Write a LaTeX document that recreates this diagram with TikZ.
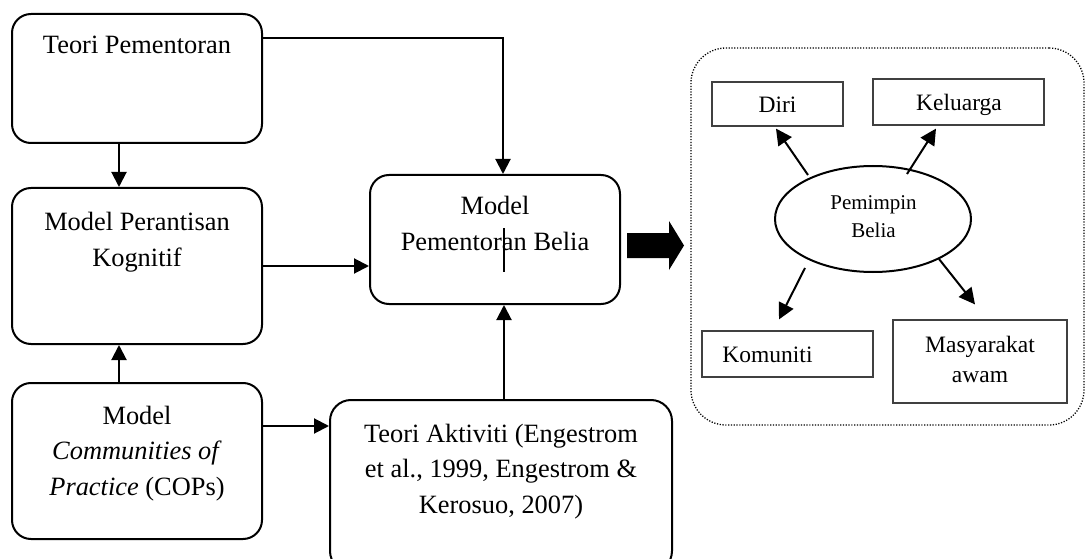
\documentclass[tikz,border=0pt]{standalone}
\usepackage{fontspec}
\setmainfont{Liberation Serif}
\usetikzlibrary{arrows.meta,shapes.geometric,calc}
\begin{document}
\begin{tikzpicture}[x=1pt,y=-1pt,
  rbox/.style={draw, line width=2pt, rounded corners=19pt, inner sep=0pt},
  pbox/.style={draw=black!75, line width=1.2pt, inner sep=0pt},
  big/.style={font=\fontsize{26.4}{35.5}\selectfont, align=center, inner sep=0pt, anchor=base},
  mid/.style={font=\fontsize{23.5}{30}\selectfont, align=center, inner sep=0pt, anchor=base},
  sml/.style={font=\fontsize{21}{28}\selectfont, align=center, inner sep=0pt, anchor=base},
  arr/.style={line width=2pt, -{Triangle[length=15pt,width=15pt]}},
  parr/.style={line width=2pt, -{Triangle[length=16pt,width=16pt]}},
]
\path[use as bounding box] (0,0) rectangle (1085,559);
\clip (0,0) rectangle (1085,559);

% left boxes
\node[rbox, minimum width=250pt, minimum height=129pt] (b1) at (137,78.5) {};
\node[rbox, minimum width=250pt, minimum height=156pt] (b2) at (137,266) {};
\node[rbox, minimum width=250pt, minimum height=156pt] (b3) at (137,461) {};
\node[rbox, minimum width=250pt, minimum height=129pt] (b4) at (495,239.5) {};
\node[rbox, rounded corners=21pt, minimum width=342pt, minimum height=172pt] (b5) at (501,486) {};

\node[big] (t1) at (137,54) {Teori Pementoran};
\node[big] (t2) at (137,266) {Model Perantisan\\Kognitif};
\node[big] (t3) at (137,495) {Model\\\textit{Communities of}\\\textit{Practice} (COPs)};
\node[big] (t4) at (495,250) {Model\\Pementoran Belia};
\node[big] (t5) at (501,513) {Teori Aktiviti (Engestrom\\et al., 1999, Engestrom \&\\Kerosuo, 2007)};

% connectors
\draw[arr] ([yshift=40.5pt]b1.east) -| ([xshift=8pt]b4.north);
\draw[arr] ([xshift=-18pt]b1.south) -- ([xshift=-18pt]b2.north);
\draw[arr] ([xshift=-18pt]b3.north) -- ([xshift=-18pt]b2.south);
\draw[arr] (b2.east) -- (b2.east -| b4.west);
\draw[arr] ([yshift=35pt]b3.east) -- ([yshift=35pt]b3.east -| b5.west);
\draw[arr] ([xshift=3pt]b5.north) -- ([xshift=3pt]b5.north |- b4.south);
\draw[line width=1.3pt] (504,228) -- (504,272);

% big arrow
\fill (627,233) -- (669,233) -- (669,221) -- (684,245.5) -- (669,270) -- (669,258) -- (627,258) -- cycle;

% right panel
\node[draw, line width=1.3pt, dash pattern=on 1.2pt off 1.6pt, rounded corners=35pt,
      minimum width=393pt, minimum height=377pt, inner sep=0pt] (panel) at (887.5,236.5) {};
\node[pbox, minimum width=131pt, minimum height=44pt] (diri) at (777.5,104) {};
\node[pbox, minimum width=171pt, minimum height=46pt] (kel) at (958.5,102) {};
\node[pbox, minimum width=171pt, minimum height=46pt] (kom) at (787.5,354) {};
\node[pbox, minimum width=174pt, minimum height=83pt] (mas) at (980,361.5) {};
\node[draw, ellipse, line width=2pt, minimum width=196pt, minimum height=106pt, inner sep=0pt] (pb) at (873,219) {};

\node[mid] (tdiri) at (777.5,113) {Diri};
\node[mid] (tkel) at (959,111) {Keluarga};
\node[mid] (tkom) at (767.5,362) {Komuniti};
\node[mid] (tmas) at (980,382) {Masyarakat\\awam};
\node[sml] (tpb) at (873.5,237) {Pemimpin\\Belia};

\coordinate (s1) at (808,175);
\coordinate (s2) at (907,174);
\coordinate (s3) at (805,268);
\coordinate (s4) at (939,259);
\draw[parr] (s1) -- ([xshift=-1.5pt,yshift=-2pt]diri.south);
\draw[parr] (s2) -- ([xshift=-22.5pt,yshift=-3pt]kel.south);
\draw[parr] (s3) -- ([xshift=-8.5pt,yshift=11pt]kom.north);
\draw[parr] (s4) -- ([xshift=-5pt,yshift=15pt]mas.north);
\end{tikzpicture}
\end{document}
